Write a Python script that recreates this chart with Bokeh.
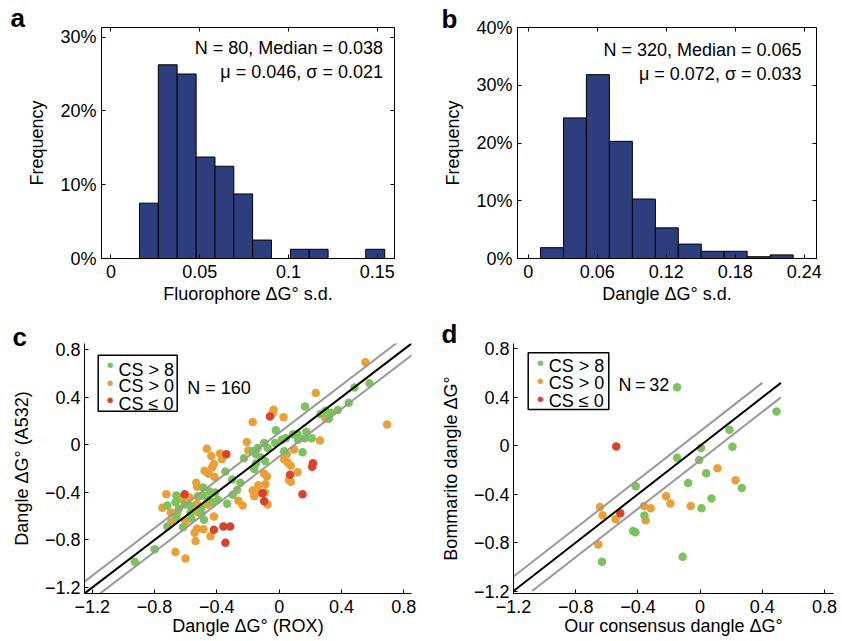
from bokeh.plotting import figure
from bokeh.models import (Range1d, FixedTicker, CustomJSTickFormatter, LinearAxis,
                          Label, BoxAnnotation)
from bokeh.layouts import column, row
from bokeh.embed import file_html
from bokeh.resources import INLINE

FONT = "Liberation Sans"
BAR = "#2c3e7e"
GREEN = "#7dc25a"
ORANGE = "#eba037"
RED = "#d9432b"
GREY = "#999999"

# ---------------- data ----------------
# panel a: fluorophore dG s.d. histogram
a_edges = [0.0161, 0.0267, 0.0373, 0.0480, 0.0586, 0.0692, 0.0798, 0.0904,
           0.1011, 0.1117, 0.1223, 0.1329, 0.1435, 0.1542]
a_counts = [6, 21, 20, 11, 10, 7, 2, 0, 1, 1, 0, 0, 1]
a_total = 80
a_stats = ["N = 80, Median = 0.038", "μ = 0.046, σ = 0.021"]
a_xticks = [0, 0.05, 0.1, 0.15]
a_yticks = [0, 10, 20, 30]

# panel b: dangle dG s.d. histogram
b_edges = [0.0107, 0.0307, 0.0506, 0.0706, 0.0906, 0.1106, 0.1305, 0.1505,
           0.1705, 0.1904, 0.2104, 0.2304]
b_counts = [6, 78, 102, 65, 33, 17, 8, 4, 4, 1, 2]
b_total = 320
b_stats = ["N = 320, Median = 0.065", "μ = 0.072, σ = 0.033"]
b_xticks = [0, 0.06, 0.12, 0.18, 0.24]
b_yticks = [0, 10, 20, 30, 40]

# panel c: dangle dG (ROX) vs dangle dG (A532)
c_green_x = [-0.345, -0.302, -0.489, -0.447, -0.411, -0.249, -0.270, -0.298, -0.660, -0.521,
             -0.489, -0.451, -0.426, -0.394, -0.334, -0.665, -0.718, -0.607, -0.569, -0.500,
             -0.645, -0.569, -0.500, -0.660, -0.483, -0.564, -0.718, -0.617, -0.799, -0.021,
             0.017, 0.043, 0.089, 0.118, 0.121, 0.164, 0.175, 0.209, 0.266, 0.298,
             0.319, -0.096, -0.074, -0.026, -0.138, -0.170, 0.150, 0.032, -0.149, -0.117,
             -0.091, -0.149, -0.160, 0.484, 0.580, 0.447, 0.377, 0.335, 0.166, -0.927,
             -0.226]
c_green_y = [-0.226, -0.293, -0.359, -0.394, -0.402, -0.320, -0.381, -0.421, -0.426, -0.434,
             -0.429, -0.462, -0.481, -0.462, -0.497, -0.483, -0.511, -0.503, -0.516, -0.530,
             -0.538, -0.570, -0.579, -0.611, -0.630, -0.619, -0.687, -0.693, -0.878, 0.122,
             0.041, 0.055, 0.087, 0.087, 0.041, 0.055, 0.108, 0.055, 0.258, 0.285,
             0.218, 0.014, -0.027, 0.014, -0.027, -0.055, -0.063, -0.055, -0.081, -0.108,
             -0.136, -0.157, -0.204, 0.481, 0.516, 0.353, 0.291, 0.269, 0.320, -0.984,
             -0.114]
c_orange_x = [-0.208, -0.198, -0.464, -0.436, -0.379, -0.368, -0.419, -0.430, -0.479, -0.454,
              -0.415, -0.532, -0.526, -0.724, -0.624, -0.575, -0.262, -0.750, -0.528, -0.458,
              -0.234, -0.696, -0.654, -0.521, -0.419, -0.692, -0.601, -0.528, -0.486, -0.543,
              -0.441, -0.537, -0.666, -0.601, -0.036, -0.042, 0.028, -0.170, 0.262, 0.096,
              0.049, 0.032, 0.054, 0.075, -0.096, -0.079, 0.118, 0.075, 0.064, -0.134,
              -0.089, -0.170, -0.160, -0.121, -0.091, -0.074, 0.554, 0.693, 0.235, 0.298]
c_orange_y = [0.022, -0.049, -0.035, -0.095, -0.073, -0.122, -0.163, -0.190, -0.218, -0.244,
              -0.271, -0.320, -0.353, -0.416, -0.456, -0.443, -0.470, -0.530, -0.497, -0.503,
              -0.511, -0.570, -0.570, -0.570, -0.603, -0.646, -0.644, -0.707, -0.711, -0.739,
              -0.769, -0.809, -0.902, -0.956, 0.293, 0.267, 0.231, 0.190, 0.035, -0.041,
              -0.081, -0.122, -0.149, -0.177, -0.244, -0.267, -0.231, -0.312, -0.299, -0.340,
              -0.332, -0.385, -0.434, -0.402, -0.402, -0.503, 0.693, 0.169, 0.434, 0.220]
c_red_x = [-0.339, -0.607, -0.419, -0.358, -0.315, -0.345, -0.059, 0.217, 0.212, 0.070,
           -0.106, -0.096, 0.150]
c_red_y = [-0.081, -0.416, -0.715, -0.687, -0.687, -0.823, 0.236, -0.155, -0.185, -0.253,
           -0.407, -0.475, -0.416]
c_diag = [-1.3, 0.9]
c_band = 0.1
c_note = "N = 160"

# panel d: our consensus dangle dG vs Bommarito dangle dG
d_green_x = [-0.148, 0.492, 0.189, 0.208, 0.006, -0.148, -0.006, 0.039, -0.077, 0.268,
             -0.414, 0.073, 0.009, -0.358, -0.431, -0.416, -0.112, -0.631]
d_green_y = [0.484, 0.283, 0.133, -0.008, -0.019, -0.098, -0.117, -0.226, -0.307, -0.348,
             -0.334, -0.435, -0.516, -0.576, -0.704, -0.715, -0.916, -0.957]
d_orange_x = [0.112, 0.228, -0.219, -0.191, -0.060, -0.361, -0.318, -0.350, -0.543, -0.627,
              -0.644, -0.655]
d_orange_y = [-0.185, -0.285, -0.416, -0.476, -0.497, -0.497, -0.516, -0.614, -0.606, -0.573,
              -0.505, -0.815]
d_red_x = [-0.539, -0.513]
d_red_y = [-0.005, -0.557]
d_diag = [-1.2, 0.52]
d_upper = [-1.2, 0.40]
d_lower = [-1.08, 0.52]
d_band = 0.12
d_note = "N\u2009=\u200932"

scat_ticks = [-1.2, -0.8, -0.4, 0, 0.4, 0.8]
legend_labels = ["CS > 8", "CS > 0", "CS ≤ 0"]
legend_colors = [GREEN, ORANGE, RED]

# ---------------- helpers ----------------
DEC_FMT = "return String(Number(tick.toFixed(3)));"
PCT_FMT = "return tick.toFixed(0) + '%';"
SIGNED_FMT = ("if (Math.abs(tick) < 1e-9) return '0';"
              "return (tick < 0 ? '\u2212' : '') + Math.abs(tick).toFixed(1);")


def style_axis(ax, ticks, code):
    ax.ticker = FixedTicker(ticks=ticks)
    ax.formatter = CustomJSTickFormatter(code=code)
    ax.major_tick_in = 4
    ax.major_tick_out = 0
    ax.minor_tick_line_color = None
    ax.axis_line_color = "black"
    ax.major_tick_line_color = "black"
    ax.major_label_text_font = FONT
    ax.major_label_text_font_size = "18px"
    ax.major_label_text_color = "black"
    ax.axis_label_text_font = FONT
    ax.axis_label_text_font_size = "18px"
    ax.axis_label_text_font_style = "normal"
    ax.axis_label_text_color = "black"


def base_fig(w, h, xr, yr, bl, br, bt, bb):
    p = figure(width=w, height=h, x_range=Range1d(*xr), y_range=Range1d(*yr),
               output_backend="svg", toolbar_location=None,
               min_border_left=bl, min_border_right=br,
               min_border_top=bt, min_border_bottom=bb)
    p.xgrid.visible = False
    p.ygrid.visible = False
    p.background_fill_color = "white"
    p.border_fill_color = "white"
    return p


def letter(p, txt, offset, standoff):
    t = p.title
    t.text = txt
    t.align = "left"
    t.offset = offset
    t.standoff = standoff
    t.vertical_align = "bottom"
    t.text_font = FONT
    t.text_font_size = "26px"
    t.text_font_style = "bold"
    t.text_color = "black"


def scr_label(p, x, y, text, size, color="black", align="left", baseline="alphabetic"):
    p.add_layout(Label(x=x, y=y, x_units="screen", y_units="screen", text=text,
                       text_font=FONT, text_font_size=size, text_color=color,
                       text_align=align, text_baseline=baseline))


def legend_box(p, box, dot_x, dot_ys, text_x, text_ys):
    left, right, bottom, top = box
    p.add_layout(BoxAnnotation(left=left, right=right, bottom=bottom, top=top,
                               left_units="screen", right_units="screen",
                               bottom_units="screen", top_units="screen",
                               fill_color="white", fill_alpha=1,
                               line_color="black", line_width=1.5, line_alpha=1))
    for lab, col, dy, ty in zip(legend_labels, legend_colors, dot_ys, text_ys):
        scr_label(p, dot_x, dy, "●", "13px", color=col, align="center", baseline="middle")
        scr_label(p, text_x, ty, lab, "18px")


def hist_panel(edges, counts, total, stats, xticks, yticks, xr, yr, xlabel,
               borders, stat_x, stat_y, let, let_pos):
    p = base_fig(421, 320, xr, yr, *borders)
    p.outline_line_color = "black"
    p.outline_line_width = 1
    tops = [c / total * 100 for c in counts]
    p.quad(left=edges[:-1], right=edges[1:], bottom=0, top=tops,
           fill_color=BAR, line_color="black", line_width=1)
    style_axis(p.xaxis[0], xticks, DEC_FMT)
    style_axis(p.yaxis[0], yticks, PCT_FMT)
    p.xaxis[0].axis_label = xlabel
    p.yaxis[0].axis_label = "Frequency"
    p.xaxis[0].major_label_standoff = 6
    p.xaxis[0].axis_label_standoff = 3
    p.yaxis[0].major_label_standoff = 5
    p.yaxis[0].axis_label_standoff = 10
    for loc, ticks in (("above", xticks), ("right", yticks)):
        ax = LinearAxis(ticker=FixedTicker(ticks=ticks),
                        formatter=CustomJSTickFormatter(code="return '';"),
                        major_tick_in=4, major_tick_out=0,
                        minor_tick_line_color=None, axis_line_color=None,
                        major_tick_line_color="black",
                        major_label_text_font_size="0px", major_label_standoff=0)
        p.add_layout(ax, loc)
    for txt, yy in zip(stats, stat_y):
        p.add_layout(Label(x=stat_x, y=yy, text=txt, text_font=FONT,
                           text_font_size="18px", text_color="black",
                           text_align="right", text_baseline="alphabetic"))
    letter(p, let, *let_pos)
    return p


def scatter_panel(xr, yr, borders, groups, xlabel, ylabel,
                  leg, note, note_xy, let, let_pos, lines):
    p = base_fig(421, 321, xr, yr, *borders)
    p.outline_line_color = None
    style_axis(p.xaxis[0], scat_ticks, SIGNED_FMT)
    style_axis(p.yaxis[0], scat_ticks, SIGNED_FMT)
    p.xaxis[0].major_label_standoff = 6
    p.xaxis[0].axis_label = xlabel
    p.xaxis[0].axis_label_standoff = 0
    p.yaxis[0].major_label_standoff = 4
    p.yaxis[0].axis_label = ylabel
    p.yaxis[0].axis_label_standoff = 10
    for name in ("orange", "green", "red"):
        xs, ys, col = groups[name]
        p.scatter(x=xs, y=ys, size=8.5, fill_color=col, line_color=None)
    for xs, ys, col in lines:
        p.line(x=xs, y=ys, line_color=col, line_width=2)
    legend_box(p, *leg)
    p.add_layout(Label(x=note_xy[0], y=note_xy[1], text=note, text_font=FONT,
                       text_font_size="18px", text_color="black",
                       text_baseline="alphabetic"))
    letter(p, let, *let_pos)
    return p


pa = hist_panel(a_edges, a_counts, a_total, a_stats, a_xticks, a_yticks,
                (-0.0053, 0.1597), (0, 31.3), "Fluorophore ΔG° s.d.",
                (101, 27, 27, 62), 0.1532, [28.5, 25.25], "a", (-91, -10))
pb = hist_panel(b_edges, b_counts, b_total, b_stats, b_xticks, b_yticks,
                (-0.0093, 0.2507), (0, 40.05), "Dangle ΔG° s.d.",
                (96, 26, 24, 62), 0.2377, [36.1, 32.0], "b", (-76, -13))

c_lines = [
    (c_diag, [v + c_band for v in c_diag], GREY),
    (c_diag, [v - c_band for v in c_diag], GREY),
    (c_diag, c_diag, "black"),
]
pc = scatter_panel((-1.25, 0.85), (-1.25, 0.85), (84, 10, 16, 48),
                   {"green": (c_green_x, c_green_y, GREEN),
                    "orange": (c_orange_x, c_orange_y, ORANGE),
                    "red": (c_red_x, c_red_y, RED)},
                   "Dangle ΔG° (ROX)", "Dangle ΔG° (A532)",
                   ((13.7, 92.7, 182.3, 238.3), 25.7, [229, 211.3, 194],
                    34, [224, 207.3, 190]),
                   c_note, (-0.59, 0.48), "c", (-72, -17), c_lines)

d_lines = [
    (d_upper, [v + d_band for v in d_upper], GREY),
    (d_lower, [v - d_band for v in d_lower], GREY),
    (d_diag, d_diag, "black"),
]
pd_ = scatter_panel((-1.2, 0.858), (-1.22, 0.845), (92, 9, 23, 47),
                    {"green": (d_green_x, d_green_y, GREEN),
                     "orange": (d_orange_x, d_orange_y, ORANGE),
                     "red": (d_red_x, d_red_y, RED)},
                    "Our consensus dangle ΔG°", "Bommarito dangle ΔG°",
                    ((14.7, 95.3, 184, 240.7), 27, [231.4, 213, 195.4],
                     35.3, [228, 210.3, 192.3]),
                    d_note, (-0.525, 0.50), "d", (-72, -10), d_lines)

layout = column(row(pa, pb), row(pc, pd_))
open("out.html", "w").write(file_html(layout, INLINE))
